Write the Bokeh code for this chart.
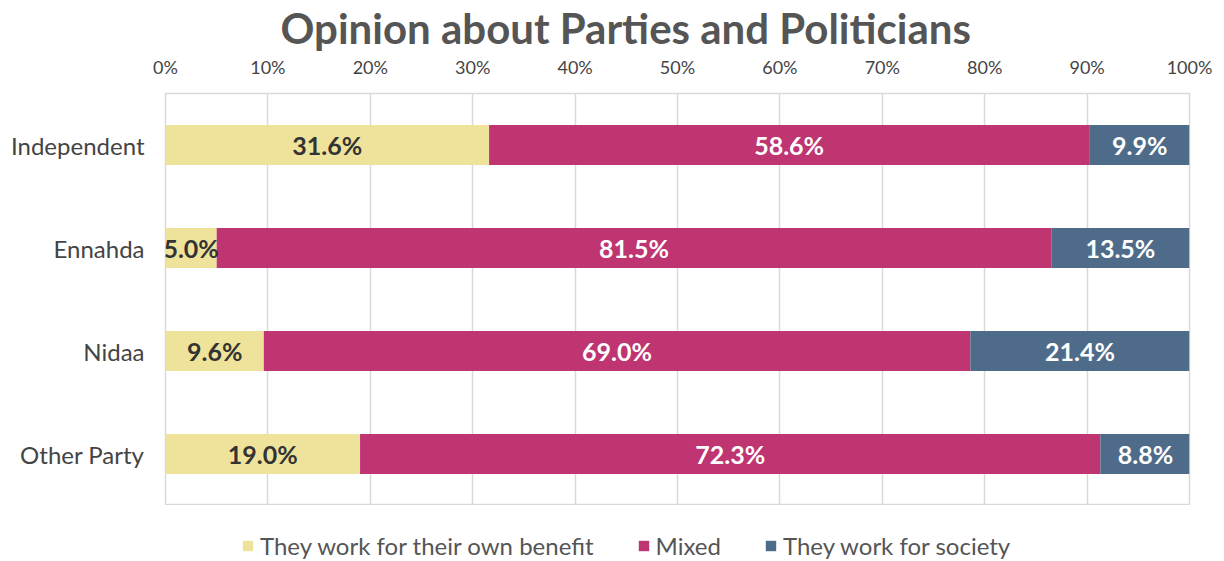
from bokeh.plotting import figure
from bokeh.layouts import column
from bokeh.models import ColumnDataSource, FactorRange, Range1d, Legend, LegendItem, FixedTicker, Title
from bokeh.core.properties import value
from bokeh.embed import file_html
from bokeh.resources import INLINE

categories = ["Independent", "Ennahda", "Nidaa", "Other Party"]
own_benefit = [31.6, 5.0, 9.6, 19.0]
mixed = [58.6, 81.5, 69.0, 72.3]
society = [9.9, 13.5, 21.4, 8.8]
series_names = ["They work for their own benefit", "Mixed", "They work for society"]
series_keys = ["own", "mixed", "society"]
colors = ["#EFE39B", "#BE3571", "#4E6C8A"]
label_colors = ["#333333", "#ffffff", "#ffffff"]
tick_values = [0, 10, 20, 30, 40, 50, 60, 70, 80, 90, 100]

FONT = "Lato"

src = ColumnDataSource(dict(cat=categories, own=own_benefit, mixed=mixed, society=society))

p = figure(width=1224, height=505, frame_width=1024, frame_height=412,
           output_backend="svg", toolbar_location=None,
           y_range=FactorRange(*reversed(categories), range_padding=0),
           x_range=Range1d(0, 100), x_axis_location="above",
           min_border_left=165, min_border_right=35, min_border_top=93, min_border_bottom=0)

p.hbar_stack(series_keys, y="cat", height=0.39, color=colors, source=src, line_width=0)

# value labels
series_vals = [own_benefit, mixed, society]
left = [0.0] * len(categories)
for vals, lc in zip(series_vals, label_colors):
    mids = [l + v / 2 for l, v in zip(left, vals)]
    texts = ["%.1f%%" % v for v in vals]
    lsrc = ColumnDataSource(dict(x=mids, y=categories, t=texts))
    p.text(x="x", y="y", text="t", source=lsrc, text_align="center", text_baseline="middle",
           text_font=value(FONT), text_font_style="bold", text_font_size="25px", text_color=lc)
    left = [l + v for l, v in zip(left, vals)]

# title
p.title = Title(text="Opinion about Parties and Politicians", align="left", offset=115,
                text_font=FONT, text_font_style="bold", text_font_size="42px",
                text_color="#555555", standoff=0)

# axes
p.xaxis.ticker = FixedTicker(ticks=tick_values)
p.xaxis.major_label_overrides = {t: "%d%%" % t for t in tick_values}
p.xaxis.axis_line_color = None
p.xaxis.major_tick_line_color = None
p.xaxis.minor_tick_line_color = None
p.xaxis.major_label_text_font = FONT
p.xaxis.major_label_text_font_size = "18px"
p.xaxis.major_label_text_color = "#444444"
p.xaxis.major_label_standoff = 10

p.yaxis.axis_line_color = None
p.yaxis.major_tick_line_color = None
p.yaxis.minor_tick_line_color = None
p.yaxis.major_label_text_font = FONT
p.yaxis.major_label_text_font_size = "24px"
p.yaxis.major_label_text_color = "#444444"
p.yaxis.major_label_standoff = 15

p.ygrid.grid_line_color = None
p.xgrid.grid_line_color = "#d9d9d9"
p.xgrid.grid_line_width = 1.5
p.outline_line_color = "#d9d9d9"
p.outline_line_width = 1.5

# legend strip below the chart (hidden copies of the bars provide the swatches)
lg = figure(width=1224, height=56, output_backend="svg", toolbar_location=None,
            x_range=Range1d(0, 100), y_range=FactorRange(*categories), min_border=0)
lg.axis.visible = False
lg.grid.visible = False
lg.outline_line_color = None
swatches = lg.hbar_stack(series_keys, y="cat", height=0.39, color=colors, source=src, line_width=0)
for r in swatches:
    r.visible = False
legend = Legend(items=[LegendItem(label=n, renderers=[r]) for n, r in zip(series_names, swatches)],
                orientation="horizontal", location=(76, 1),
                label_text_font=FONT, label_text_font_size="24px", label_text_color="#555555",
                glyph_width=13, glyph_height=13, spacing=43, label_standoff=6,
                border_line_color=None, background_fill_alpha=0, margin=0, padding=0)
lg.add_layout(legend, "center")

layout = column(p, lg, spacing=0)
open("out.html", "w").write(file_html(layout, INLINE))
